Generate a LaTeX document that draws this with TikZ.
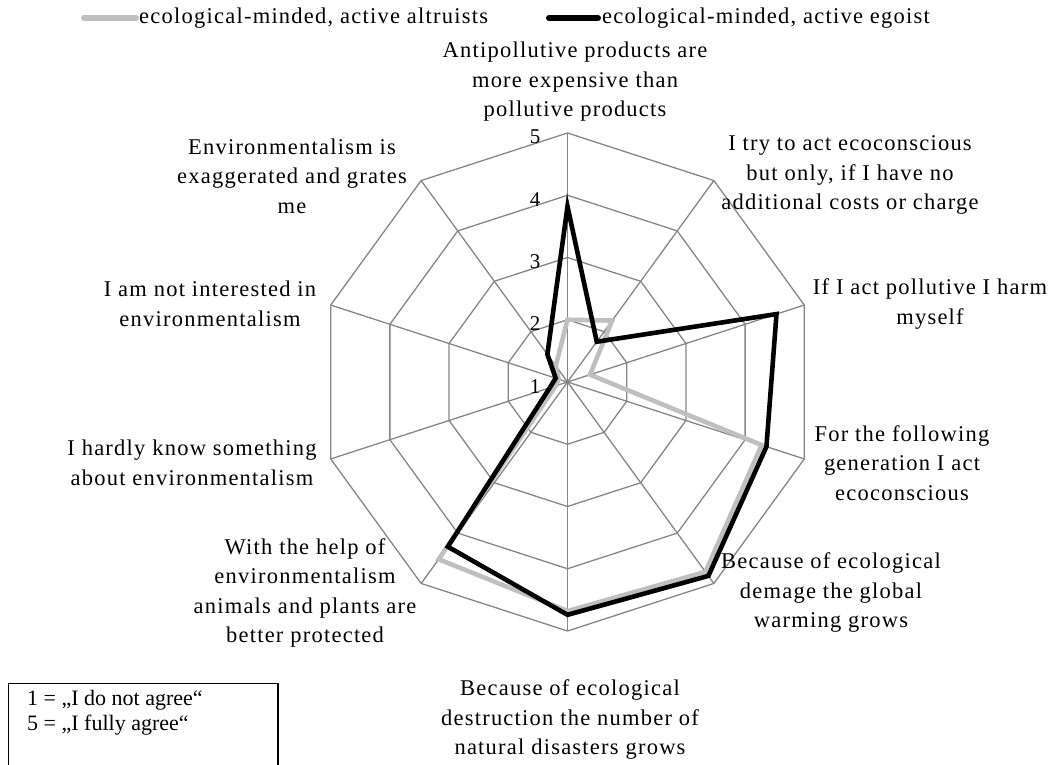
\documentclass[tikz,border=0pt]{standalone}
\usepackage{fontspec}
\setmainfont{Liberation Serif}
\newfontfamily\labfont[LetterSpace=5.5]{Liberation Serif}
\definecolor{gridgray}{RGB}{134,134,134}
\definecolor{altgray}{RGB}{191,191,191}
\begin{document}
\begin{tikzpicture}[x=1pt,y=1pt,
  grid/.style={draw=gridgray, line width=1.3pt},
  series/.style={line width=4.6pt, line join=miter, miter limit=10},
  catlabel/.style={align=center, inner sep=0pt, font=\labfont\fontsize{22.5}{29.5}\selectfont},
  ticklabel/.style={inner sep=0pt, font=\fontsize{21}{24}\selectfont},
  legtext/.style={anchor=west, inner sep=0pt, font=\labfont\fontsize{22.5}{26}\selectfont},
  legbar/.style={line width=6pt, line cap=round}]
\useasboundingbox (0,0) rectangle (1054,764);
\coordinate (O) at (567.5,382);
% grid
\foreach \i in {0,...,9} {
  \foreach \r in {1,...,4} {
    \path (O) ++({90-36*\i}:{\r*62.25}) coordinate (r\r-\i);
  }
}
\foreach \i in {0,...,9} { \draw[grid] (O) -- (r4-\i); }
\foreach \r in {1,...,4} {
  \draw[grid] (r\r-0) -- (r\r-1) -- (r\r-2) -- (r\r-3) -- (r\r-4) -- (r\r-5) -- (r\r-6) -- (r\r-7) -- (r\r-8) -- (r\r-9) -- cycle;
}
% data
\foreach \v [count=\i from 0] in {2.0,2.22,1.38,4.28,4.77,4.68,4.52,1.2,1.15,1.32} {
  \path (O) ++({90-36*\i}:{(\v-1)*62.25}) coordinate (g\i);
}
\foreach \v [count=\i from 0] in {3.82,1.8,4.53,4.36,4.85,4.74,4.27,1.3,1.2,1.55} {
  \path (O) ++({90-36*\i}:{(\v-1)*62.25}) coordinate (b\i);
}
\draw[series, altgray] (g0) -- (g1) -- (g2) -- (g3) -- (g4) -- (g5) -- (g6) -- (g7) -- (g8) -- (g9) -- cycle;
\draw[series, black] (b0) -- (b1) -- (b2) -- (b3) -- (b4) -- (b5) -- (b6) -- (b7) -- (b8) -- (b9) -- cycle;
% tick labels
\node[ticklabel] (t1) at (535,377.3) {1};
\node[ticklabel] (t2) at (535,440) {2};
\node[ticklabel] (t3) at (535,502.3) {3};
\node[ticklabel] (t4) at (535,564) {4};
\node[ticklabel] (t5) at (535,627) {5};
% category labels
\node[catlabel] (L0) at (575,682.3) {Antipollutive products are\\more expensive than\\pollutive products};
\node[catlabel] (L1) at (850,589) {I try to act ecoconscious\\but only, if I have no\\additional costs or charge};
\node[catlabel] (L2) at (930,460) {If I act pollutive I harm\\myself};
\node[catlabel] (L3) at (902,301) {For the following\\generation I act\\ecoconscious};
\node[catlabel] (L4) at (831,171) {Because of ecological\\demage the global\\warming grows};
\node[catlabel] (L5) at (570,44) {Because of ecological\\destruction the number of\\natural disasters grows};
\node[catlabel] (L6) at (305,171) {With the help of\\environmentalism\\animals and plants are\\better protected};
\node[catlabel] (L7) at (192,301) {I hardly know something\\about environmentalism};
\node[catlabel] (L8) at (210,460) {I am not interested in\\environmentalism};
\node[catlabel] (L9) at (292,588) {Environmentalism is\\exaggerated and grates\\me};
% legend
\coordinate (la1) at (84,746);
\coordinate (la2) at (136,746);
\coordinate (lb1) at (549,746);
\coordinate (lb2) at (598,746);
\draw[legbar, altgray] (la1) -- (la2);
\draw[legbar, black] (lb1) -- (lb2);
\node[legtext] (lt1) at (139,746) {ecological-minded, active altruists};
\node[legtext] (lt2) at (602,746) {ecological-minded, active egoist};
% note box
\coordinate (n1) at (8.3,-5);
\coordinate (n2) at (8.3,80.7);
\coordinate (n3) at (278,80.7);
\coordinate (n4) at (278,-5);
\draw[line width=1.2pt] (n1) -- (n2) -- (n3) -- (n4);
\node[anchor=west, align=left, inner sep=0pt, font=\fontsize{22}{25}\selectfont] (note) at (27,51.5) {1 = „I do not agree“\\5 = „I fully agree“};
\end{tikzpicture}
\end{document}
